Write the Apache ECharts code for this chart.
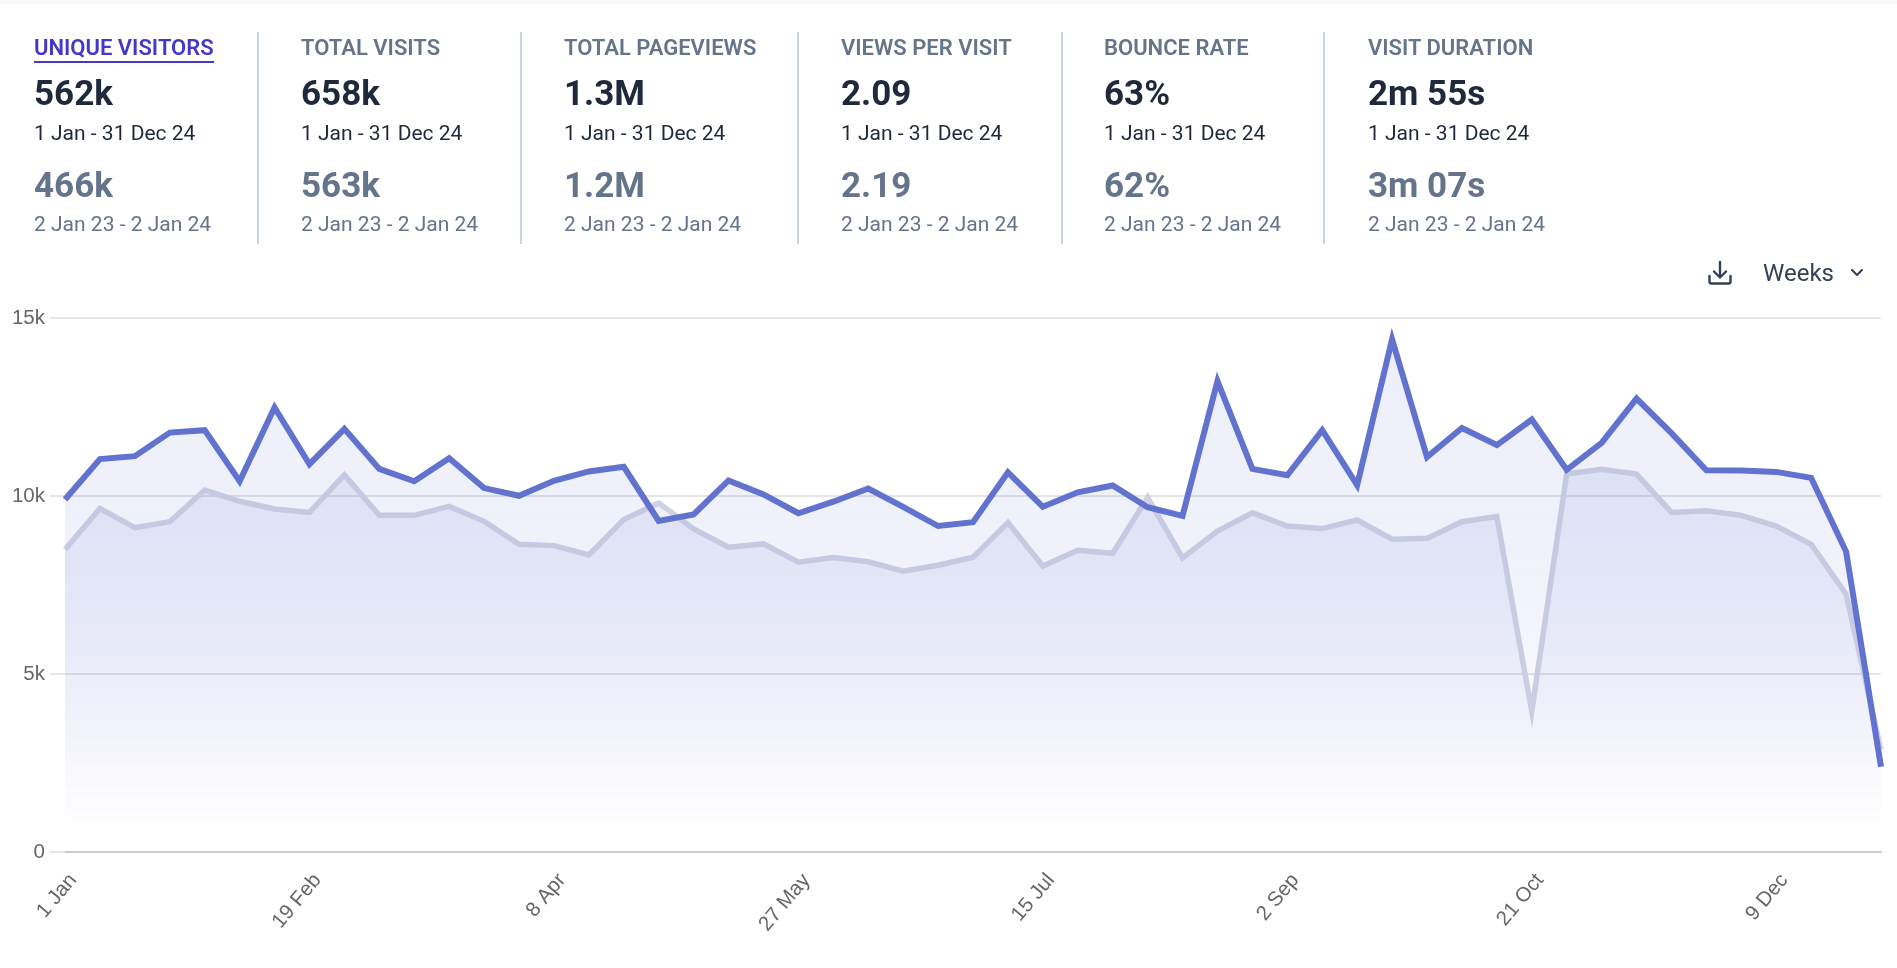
<!DOCTYPE html>
<html>
<head>
<meta charset="utf-8">
<title>Visitors</title>
<script src="https://cdn.jsdelivr.net/npm/echarts@6/dist/echarts.min.js"></script>
<style>
	html, body { margin: 0; padding: 0; background: #fff; font-family: Roboto, sans-serif; }
	#strip { position: absolute; left: 0; top: 0; width: 1897px; height: 4px; background: #f8fafc; }
	#chart { position: absolute; left: 0; top: 0; width: 1897px; height: 968px; }
	.stat { position: absolute; top: 0; white-space: nowrap; }
	.stat div { position: absolute; left: 0; line-height: 1; white-space: nowrap; }
	.title { top: 37px; font-size: 22px; font-weight: 600; color: #64748b; }
	.title.active { color: #4338ca; border-bottom: 2.5px solid #4338ca; padding-bottom: 2px; }
	.value { top: 76px; font-size: 35px; font-weight: 700; color: #1e293b; }
	.range { top: 123px; font-size: 21px; color: #1e293b; }
	.prev { top: 168px; font-size: 35px; font-weight: 700; color: #64748b; }
	.prevRange { top: 214px; font-size: 21px; color: #64748b; }
	.divider { position: absolute; top: 32px; width: 2px; height: 212px; background: #cbd5e1; }
	#weeks { position: absolute; left: 1763px; top: 262px; font-size: 24px; line-height: 23px; color: #334155; }
	#download { position: absolute; left: 1707px; top: 259px; }
	#chevron { position: absolute; left: 1848px; top: 267px; }
</style>
</head>
<body>
<div id="chart"></div>
<div id="strip"></div>
<div id="stats"></div>
<svg id="download" width="26" height="27" viewBox="0 0 26 27" fill="none" stroke="#334155" stroke-width="2.4" stroke-linecap="round" stroke-linejoin="round">
	<path d="M13 3v15M7 12.5l6 6 6-6"/>
	<path d="M2.5 17v5.5a2 2 0 0 0 2 2h17a2 2 0 0 0 2-2V17"/>
</svg>
<div id="weeks">Weeks</div>
<svg id="chevron" width="18" height="12" viewBox="0 0 18 12" fill="none" stroke="#334155" stroke-width="2" stroke-linecap="round" stroke-linejoin="round">
	<path d="M4 3l5 5 5-5"/>
</svg>
<script>
var statTitles = ["UNIQUE VISITORS", "TOTAL VISITS", "TOTAL PAGEVIEWS", "VIEWS PER VISIT", "BOUNCE RATE", "VISIT DURATION"];
var statValues = ["562k", "658k", "1.3M", "2.09", "63%", "2m 55s"];
var statPrev = ["466k", "563k", "1.2M", "2.19", "62%", "3m 07s"];
var statLeft = [34, 301, 564, 841, 1104, 1368];
var dividerLeft = [257, 520, 797, 1061, 1323];
var rangeText = "1 Jan - 31 Dec 24";
var prevRangeText = "2 Jan 23 - 2 Jan 24";

var weeks = ["1 Jan","8 Jan","15 Jan","22 Jan","29 Jan","5 Feb","12 Feb","19 Feb","26 Feb","4 Mar","11 Mar","18 Mar","25 Mar",
	"1 Apr","8 Apr","15 Apr","22 Apr","29 Apr","6 May","13 May","20 May","27 May","3 Jun","10 Jun","17 Jun","24 Jun",
	"1 Jul","8 Jul","15 Jul","22 Jul","29 Jul","5 Aug","12 Aug","19 Aug","26 Aug","2 Sep","9 Sep","16 Sep","23 Sep","30 Sep",
	"7 Oct","14 Oct","21 Oct","28 Oct","4 Nov","11 Nov","18 Nov","25 Nov","2 Dec","9 Dec","16 Dec","23 Dec","30 Dec"];
var visitors = [9900,11036,11120,11780,11850,10414,12485,10893,11886,10761,10414,11060,10222,10007,10426,10690,10820,
	9300,9480,10438,10043,9516,9840,10210,9696,9157,9265,10665,9696,10103,10294,9684,9444,13227,10761,10581,
	11850,10306,14400,11096,11910,11431,12150,10737,11491,12736,11767,10725,10713,10677,10510,8439,2394];
var previous = [8499,9648,9109,9277,10163,9851,9636,9540,10593,9456,9456,9708,9289,8642,8606,8343,9337,
	9803,9073,8559,8654,8140,8271,8152,7888,8056,8283,9253,8032,8475,8391,9959,8259,9013,9528,9157,
	9085,9325,8786,8810,9277,9420,3950,10617,10749,10617,9540,9588,9456,9157,8642,7242,2873];

// stat blocks
var statsHtml = "";
for (var i in statTitles){
	statsHtml += '<div class="stat" style="left:' + statLeft[i] + 'px">'
		+ '<div class="title' + (i == 0 ? ' active' : '') + '">' + statTitles[i] + '</div>'
		+ '<div class="value">' + statValues[i] + '</div>'
		+ '<div class="range">' + rangeText + '</div>'
		+ '<div class="prev">' + statPrev[i] + '</div>'
		+ '<div class="prevRange">' + prevRangeText + '</div>'
		+ '</div>';
}
for (var j in dividerLeft){
	statsHtml += '<div class="divider" style="left:' + dividerLeft[j] + 'px"></div>';
}
document.getElementById("stats").innerHTML = statsHtml;

function areaFill(){
	return {
		color: new echarts.graphic.LinearGradient(0, 0, 0, 1, [
			{ offset: 0, color: "rgba(98,114,207,0.17)" },
			{ offset: 0.45, color: "rgba(98,114,207,0.13)" },
			{ offset: 0.95, color: "rgba(98,114,207,0)" },
			{ offset: 1, color: "rgba(98,114,207,0)" }
		])
	};
}

var chart = echarts.init(document.getElementById("chart"));
chart.setOption({
	animation: false,
	grid: { left: 65, right: 16, top: 318, bottom: 116 },
	xAxis: {
		type: "category",
		boundaryGap: false,
		data: weeks,
		axisLine: { lineStyle: { color: "#cccccc", width: 2 } },
		axisTick: { show: false },
		axisLabel: {
			interval: 6,
			rotate: 50,
			margin: 18,
			verticalAlign: "top",
			color: "#666666",
			fontFamily: "Liberation Sans",
			fontSize: 20.5
		}
	},
	yAxis: {
		type: "value",
		min: 0,
		max: 15000,
		interval: 5000,
		axisLine: { show: false },
		axisTick: { show: true, length: 15, lineStyle: { color: "#e5e5e5", width: 2 } },
		axisLabel: {
			margin: 20,
			padding: [0, 0, 3, 0],
			color: "#666666",
			fontFamily: "Liberation Sans",
			fontSize: 20.5,
			formatter: function(v){ return v == 0 ? "0" : (v / 1000) + "k"; }
		},
		splitLine: { lineStyle: { color: "#e5e5e5", width: 2 } }
	},
	series: [
		{
			name: "previous",
			type: "line",
			data: previous,
			showSymbol: false,
			lineStyle: { color: "#d0d2e3", width: 5.5, join: "miter", miterLimit: 10, cap: "butt" },
			areaStyle: areaFill(),
			z: 2
		},
		{
			name: "visitors",
			type: "line",
			data: visitors,
			showSymbol: false,
			lineStyle: { color: "#6272cf", width: 6, join: "miter", miterLimit: 10, cap: "butt" },
			areaStyle: areaFill(),
			z: 3
		}
	]
});
</script>
</body>
</html>
